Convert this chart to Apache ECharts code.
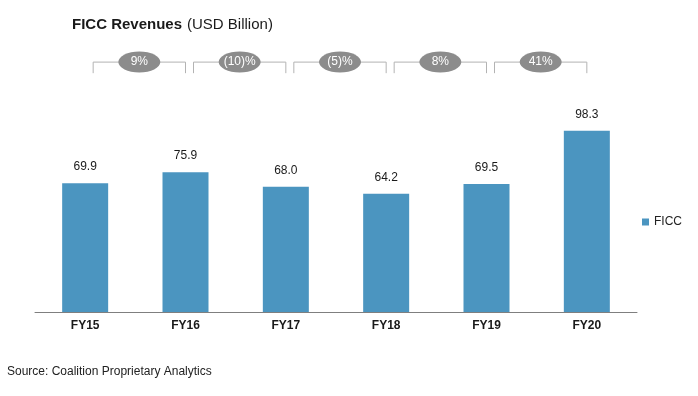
<!DOCTYPE html>
<html>
<head>
<meta charset="utf-8">
<script src="https://cdn.jsdelivr.net/npm/echarts@6/dist/echarts.min.js"></script>
<style>
html, body { margin: 0; padding: 0; background: #fff; }
#main { width: 698px; height: 396px; }
</style>
</head>
<body>
<div id="main"></div>
<script>
var years = ['FY15', 'FY16', 'FY17', 'FY18', 'FY19', 'FY20'];
var ficc = [69.9, 75.9, 68.0, 64.2, 69.5, 98.3];
// year-on-year change shown in the grey ovals between bars
var growth = ['9%', '(10)%', '(5)%', '8%', '41%'];

var font = 'Liberation Sans, Arial, sans-serif';
var myChart = echarts.init(document.getElementById('main'));

var bracketData = growth.map(function (g, i) { return [i, g]; });

var option = {
    animation: false,
    textStyle: { fontFamily: font },
    title: {
        text: '{b|FICC Revenues} {n|(USD Billion)}',
        left: 67,
        top: 11,
        textStyle: {
            fontWeight: 'normal',
            rich: {
                b: { fontFamily: font, fontSize: 15, fontWeight: 'bold', color: '#1a1a1a' },
                n: { fontFamily: font, fontSize: 15, fontWeight: 'normal', color: '#1a1a1a' }
            }
        }
    },
    legend: {
        data: ['FICC'],
        orient: 'vertical',
        left: 637,
        top: 211,
        icon: 'rect',
        itemWidth: 7,
        itemHeight: 7,
        itemGap: 5,
        textStyle: { fontFamily: font, fontSize: 12, color: '#222' }
    },
    graphic: [{
        type: 'text',
        left: 7,
        top: 366,
        style: { text: 'Source: Coalition Proprietary Analytics', font: '12px ' + font, fill: '#222' }
    }],
    grid: { left: 35, right: 61, top: 54, bottom: 84 },
    xAxis: {
        type: 'category',
        data: years,
        axisLine: { lineStyle: { color: '#7f7f7f', width: 1 } },
        axisTick: { show: false },
        axisLabel: { fontFamily: font, fontSize: 12, fontWeight: 'bold', color: '#1a1a1a', margin: 8 }
    },
    yAxis: {
        type: 'value',
        min: 0,
        max: 140,
        show: false,
        splitLine: { show: false }
    },
    series: [{
        name: 'FICC',
        type: 'bar',
        data: ficc,
        barWidth: 46,
        itemStyle: { color: '#4b95c0' },
        label: {
            show: true,
            position: 'top',
            distance: 10,
            fontFamily: font,
            fontSize: 12,
            color: '#1a1a1a',
            formatter: function (p) { return p.value.toFixed(1); }
        }
    }, {
        type: 'custom',
        data: bracketData,
        silent: true,
        clip: false,
        z: 5,
        renderItem: function (params, api) {
            var i = api.value(0);
            var a = api.coord([i, 135.6]);
            var b = api.coord([i + 1, 135.6]);
            var low = api.coord([i, 129.6]);
            var x1 = a[0] + 8, x2 = b[0], y = a[1], y2 = low[1];
            var cx = (x1 + x2) / 2;
            var lineStyle = { stroke: '#b3b3b3', lineWidth: 1, fill: null };
            return {
                type: 'group',
                children: [
                    { type: 'polyline', shape: { points: [[x1, y2], [x1, y], [x2, y], [x2, y2]] }, style: lineStyle },
                    { type: 'ellipse', shape: { cx: cx, cy: y, rx: 21, ry: 10.5 }, style: { fill: '#8c8c8c' } },
                    {
                        type: 'text',
                        x: cx, y: y,
                        style: {
                            text: growth[i],
                            fill: '#ffffff',
                            font: '12px ' + font,
                            align: 'center',
                            verticalAlign: 'middle'
                        }
                    }
                ]
            };
        }
    }]
};

myChart.setOption(option);
window.addEventListener('resize', function () { myChart.resize(); });
</script>
</body>
</html>
